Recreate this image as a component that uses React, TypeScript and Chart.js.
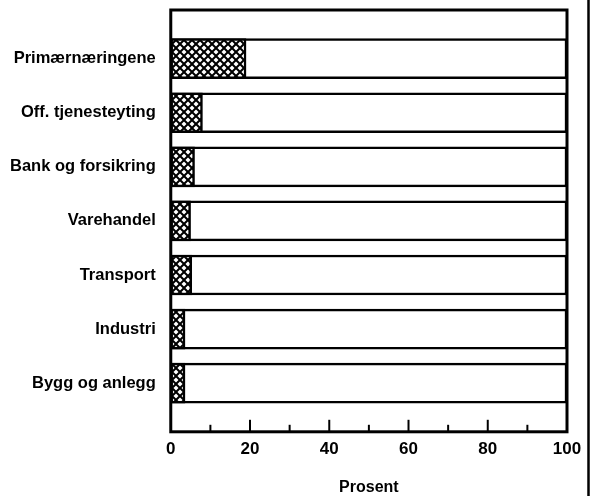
import React, { useEffect, useRef } from "react";
import { Chart, registerables } from "chart.js";

Chart.register(...registerables);

const categories = [
  "Primærnæringene",
  "Off. tjenesteyting",
  "Bank og forsikring",
  "Varehandel",
  "Transport",
  "Industri",
  "Bygg og anlegg",
];
const hatchedShare = [19, 8, 6, 5, 5.3, 3.6, 3.6];
const totalShare = [100, 100, 100, 100, 100, 100, 100];
const xTickValues = [0, 20, 40, 60, 80, 100];
const minorTickValues = [10, 30, 50, 70, 90];
const xTitle = "Prosent";

const FONT = "'Liberation Sans', Arial, sans-serif";

function makePattern(): CanvasPattern | string {
  const c = document.createElement("canvas");
  const s = 8;
  c.width = s;
  c.height = s;
  const g = c.getContext("2d");
  if (!g) return "#000";
  g.fillStyle = "#fff";
  g.fillRect(0, 0, s, s);
  g.strokeStyle = "#000";
  g.lineWidth = 2;
  for (const off of [-s, 0, s]) {
    g.beginPath();
    g.moveTo(off, 0);
    g.lineTo(off + s, s);
    g.stroke();
    g.beginPath();
    g.moveTo(off + s, 0);
    g.lineTo(off, s);
    g.stroke();
  }
  return g.createPattern(c, "repeat") || "#000";
}

const framePlugin = {
  id: "frame",
  afterDraw(chart: any) {
    const { ctx, chartArea } = chart;
    const xs = chart.scales.x;
    ctx.save();
    ctx.strokeStyle = "#000";
    ctx.lineWidth = 3;
    ctx.strokeRect(
      chartArea.left,
      chartArea.top,
      chartArea.right - chartArea.left,
      chartArea.bottom - chartArea.top
    );
    ctx.lineWidth = 2;
    for (const v of xTickValues) {
      if (v === 0 || v === 100) continue;
      const px = xs.getPixelForValue(v);
      ctx.beginPath();
      ctx.moveTo(px, chartArea.bottom);
      ctx.lineTo(px, chartArea.bottom - 12);
      ctx.stroke();
    }
    for (const v of minorTickValues) {
      const px = xs.getPixelForValue(v);
      ctx.beginPath();
      ctx.moveTo(px, chartArea.bottom);
      ctx.lineTo(px, chartArea.bottom - 7);
      ctx.stroke();
    }
    ctx.lineWidth = 2.5;
    ctx.beginPath();
    ctx.moveTo(588.5, 0);
    ctx.lineTo(588.5, chart.height);
    ctx.stroke();
    ctx.restore();
  },
};

export default function App() {
  const ref = useRef<HTMLCanvasElement | null>(null);
  useEffect(() => {
    if (!ref.current) return;
    const pattern = makePattern();
    const chart = new Chart(ref.current, {
      type: "bar",
      data: {
        datasets: [
          {
            label: "andel",
            data: hatchedShare.map((v, i) => ({ x: v, y: i })),
            backgroundColor: pattern as any,
            borderColor: "#000",
            borderWidth: 2.5,
            borderSkipped: false,
            grouped: false,
            barThickness: 40,
          },
          {
            label: "total",
            data: totalShare.map((v, i) => ({ x: v, y: i })),
            backgroundColor: "#fff",
            borderColor: "#000",
            borderWidth: 2.5,
            borderSkipped: false,
            grouped: false,
            barThickness: 40,
          },
        ],
      },
      options: {
        indexAxis: "y",
        animation: false,
        responsive: true,
        maintainAspectRatio: false,
        layout: { padding: { top: 10, right: 28, left: -5, bottom: 0 } },
        plugins: { legend: { display: false }, tooltip: { enabled: false } },
        scales: {
          x: {
            type: "linear",
            min: 0,
            max: 100,
            offset: false,
            grid: { display: false, drawTicks: false },
            border: { display: false },
            afterBuildTicks: (axis: any) => {
              axis.ticks = xTickValues.map((v) => ({ value: v }));
            },
            afterFit: (axis: any) => {
              axis.paddingLeft = 0;
              axis.paddingRight = 0;
            },
            ticks: {
              color: "#000",
              padding: 8,
              font: { family: FONT, size: 17, weight: "bold", lineHeight: 1.13 },
            },
            title: {
              display: true,
              text: xTitle,
              color: "#000",
              padding: { top: 13, bottom: 0 },
              font: { family: FONT, size: 16, weight: "bold", lineHeight: 1 },
            },
          },
          y: {
            type: "linear",
            reverse: true,
            min: -0.9,
            max: 6.9,
            offset: false,
            grid: { display: false, drawTicks: false },
            border: { display: false },
            afterBuildTicks: (axis: any) => {
              axis.ticks = categories.map((_, i) => ({ value: i }));
            },
            afterFit: (axis: any) => {
              axis.paddingTop = 0;
              axis.paddingBottom = 0;
            },
            ticks: {
              color: "#000",
              padding: 15,
              autoSkip: false,
              font: { family: FONT, size: 16.5, weight: "bold" },
              callback: (v: any) => categories[v as number] ?? "",
            },
          },
        },
      },
      plugins: [framePlugin],
    });
    return () => chart.destroy();
  }, []);
  return (
    <div
      style={{
        position: "fixed",
        left: 0,
        top: 0,
        width: 595,
        height: 496,
        background: "#fff",
      }}
    >
      <canvas ref={ref} />
    </div>
  );
}
